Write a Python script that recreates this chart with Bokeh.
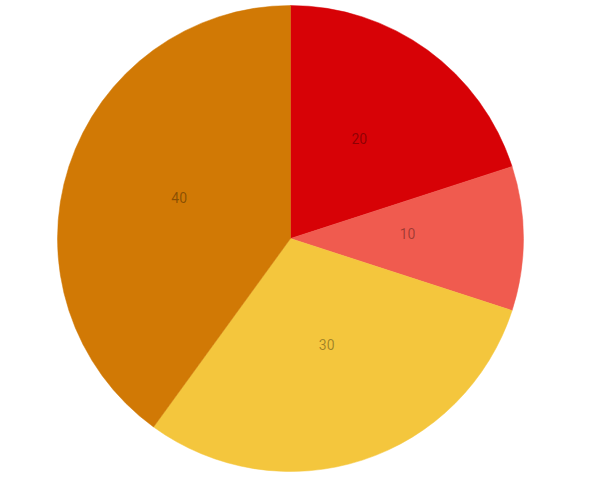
import math
from bokeh.plotting import figure
from bokeh.models import ColumnDataSource
from bokeh.core.properties import value
from bokeh.embed import file_html
from bokeh.resources import INLINE

# Data
labels = ["20", "10", "30", "40"]
values = [20, 10, 30, 40]
colors = ["#d70206", "#f05b4f", "#f4c63d", "#d17905"]

W, H = 574, 474
CX, CY = 290, 238  # pie centre in figure pixels (from left, from top)
R = 233
LR = 117

total = float(sum(values))
starts, ends, lx, ly = [], [], [], []
cum = 0.0
for v in values:
    a0 = math.pi / 2 - 2 * math.pi * cum / total
    cum += v
    a1 = math.pi / 2 - 2 * math.pi * cum / total
    starts.append(a0)
    ends.append(a1)
    mid = (a0 + a1) / 2
    lx.append(LR * math.cos(mid))
    ly.append(LR * math.sin(mid) + 5)

src = ColumnDataSource(dict(start=starts, end=ends, color=colors,
                            lx=lx, ly=ly, label=labels))

p = figure(width=W, height=H, output_backend="svg", toolbar_location=None,
           x_range=(-CX, W - CX), y_range=(-(H - CY), CY),
           min_border=0, border_fill_color=None, background_fill_color=None)
p.axis.visible = False
p.grid.visible = False
p.outline_line_color = None

p.wedge(x=0, y=0, radius=R, start_angle="start", end_angle="end",
        direction="clock", fill_color="color", line_color="color",
        line_width=0.5, source=src)

p.text(x="lx", y="ly", text="label", source=src, text_align="center",
       text_baseline="middle", text_font=value("Roboto"),
       text_font_size="14px", text_color="black", text_alpha=0.35)

open("out.html", "w").write(file_html(p, INLINE))
